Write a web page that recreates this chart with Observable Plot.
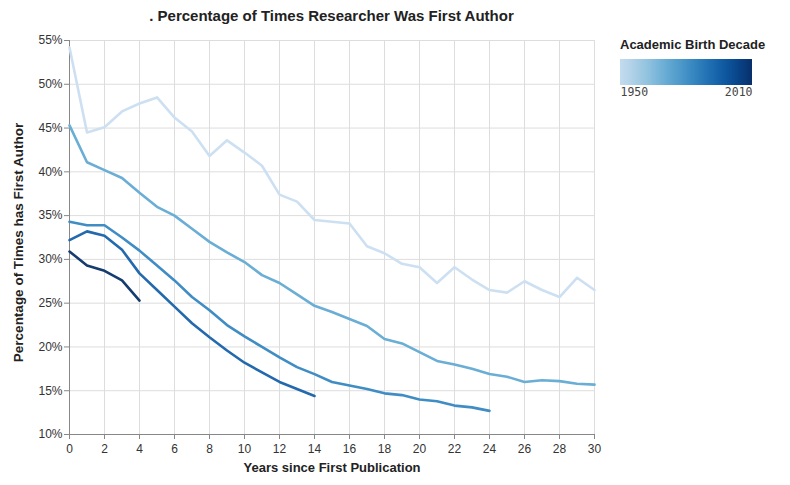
<!DOCTYPE html>
<html><head><meta charset="utf-8">
<script src="https://cdn.jsdelivr.net/npm/d3@7"></script>
<script src="https://cdn.jsdelivr.net/npm/@observablehq/plot@0.6"></script>
<style>
body{margin:0;background:#fff;font-family:"Liberation Sans",Arial,sans-serif;}
#wrap{position:relative;width:790px;height:485px;overflow:hidden;}
#title{position:absolute;top:7px;left:0;width:663px;text-align:center;font-weight:bold;font-size:15px;color:#222;}
#chart{position:absolute;left:0;top:0;}
#legtitle{position:absolute;left:620px;top:37px;font-weight:bold;font-size:13px;color:#222;}
#legend{position:absolute;left:620px;top:59px;}
#legend svg{font-family:"DejaVu Sans Mono",monospace;font-size:11.5px;color:#444;overflow:visible;}
</style></head><body>
<div id="wrap">
  <div id="chart"></div>
  <div id="title">. Percentage of Times Researcher Was First Author</div>
  <div id="legtitle">Academic Birth Decade</div>
  <div id="legend"></div>
</div>
<script>
// ---- data ----
const years = [0,1,2,3,4,5,6,7,8,9,10,11,12,13,14,15,16,17,18,19,20,21,22,23,24,25,26,27,28,29,30];
const decades = [1970, 1980, 1990, 2000, 2010];
const pct1970 = [54.2,44.5,45.1,46.9,47.8,48.5,46.2,44.6,41.8,43.6,42.2,40.7,37.4,36.6,34.5,34.3,34.1,31.5,30.7,29.5,29.1,27.3,29.1,27.7,26.5,26.2,27.5,26.5,25.7,27.9,26.5];
const pct1980 = [45.3,41.1,40.2,39.3,37.6,36.0,35.0,33.5,32.0,30.8,29.7,28.2,27.3,26.0,24.7,24.0,23.2,22.4,20.9,20.4,19.4,18.4,18.0,17.5,16.9,16.6,16.0,16.2,16.1,15.8,15.7];
const pct1990 = [34.3,33.9,33.9,32.5,31.0,29.3,27.6,25.7,24.2,22.5,21.2,20.0,18.8,17.7,16.9,16.0,15.6,15.2,14.7,14.5,14.0,13.8,13.3,13.1,12.7];
const pct2000 = [32.2,33.2,32.7,31.1,28.4,26.5,24.6,22.7,21.1,19.6,18.2,17.1,16.0,15.2,14.4];
const pct2010 = [30.9,29.3,28.7,27.6,25.3];
const xTicks = [0,2,4,6,8,10,12,14,16,18,20,22,24,26,28,30];
const yTicks = [0.10,0.15,0.20,0.25,0.30,0.35,0.40,0.45,0.50,0.55];
const legendTicks = [1950, 2010];

const series = [pct1970, pct1980, pct1990, pct2000, pct2010];
const rows = [];
series.forEach((vals, k) => vals.forEach((v, i) => rows.push({decade: decades[k], year: years[i], pct: v / 100})));

const lineColors = ["#cde0f2", "#6aaed6", "#3f8dc4", "#2369ad", "#143c6e"];

const chart = Plot.plot({
  width: 610, height: 485,
  marginLeft: 69, marginRight: 16, marginTop: 40, marginBottom: 51,
  style: {fontFamily: "'Liberation Sans', Arial, sans-serif", fontSize: "12px", color: "#333", background: "white"},
  x: {domain: [0, 30], label: null},
  y: {domain: [0.10, 0.55], label: null},
  color: {type: "linear", domain: decades, range: lineColors},
  marks: [
    Plot.gridX(xTicks, {stroke: "#ddd", strokeOpacity: 1}),
    Plot.gridY(yTicks, {stroke: "#ddd", strokeOpacity: 1}),
    Plot.ruleX([0], {stroke: "#888"}),
    Plot.ruleY([0.10], {stroke: "#888"}),
    Plot.axisX(xTicks, {tickSize: 5, tickPadding: 5, stroke: "#888", fill: "#333", label: null}),
    Plot.axisY(yTicks, {tickSize: 5, tickPadding: 2, stroke: "#888", fill: "#333", tickFormat: d3.format(".0%"), label: null}),
    Plot.line(rows, {x: "year", y: "pct", z: "decade", stroke: "decade", strokeWidth: 2.6}),
    Plot.text(["Years since First Publication"], {frameAnchor: "bottom", dy: 37, fontWeight: "bold", fontSize: 13, fill: "#222"}),
    Plot.text(["Percentage of Times has First Author"], {frameAnchor: "left", dx: -51, dy: 5, rotate: -90, textAnchor: "middle", fontWeight: "bold", fontSize: 13.5, fill: "#222"})
  ]
});
document.getElementById("chart").appendChild(chart);

const leg = Plot.legend({
  color: {type: "linear", domain: [1950, 2010], interpolate: t => d3.interpolateBlues(0.25 + 0.75 * t)},
  label: null,
  width: 132, height: 40, marginTop: 0, marginBottom: 14, marginLeft: 0, marginRight: 0,
  ticks: legendTicks, tickSize: 0, tickFormat: d => String(d)
});
document.getElementById("legend").appendChild(leg);
const tt = leg.querySelectorAll(".tick text");
if (tt.length) { tt[0].setAttribute("text-anchor", "start"); tt[tt.length - 1].setAttribute("text-anchor", "end"); }
leg.querySelectorAll(".domain, .tick line").forEach(d => d.remove());
</script>
</body></html>
